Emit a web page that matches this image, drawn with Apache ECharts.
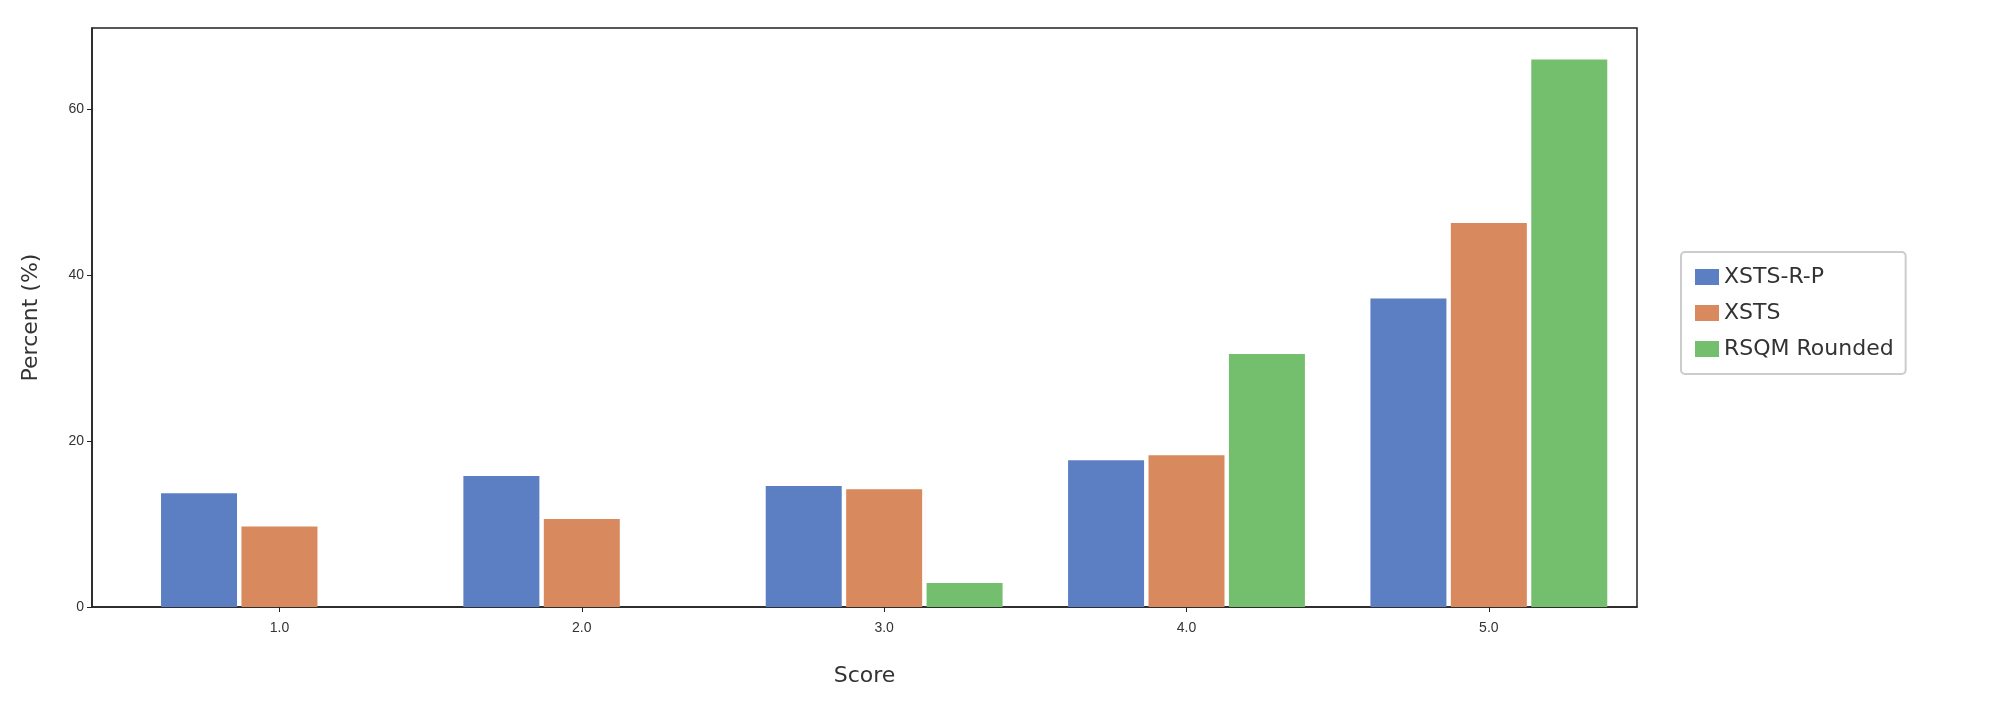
<!DOCTYPE html>
<html>
<head>
<meta charset="utf-8">
<script src="https://cdn.jsdelivr.net/npm/echarts@6/dist/echarts.min.js"></script>
<style>html,body{margin:0;background:#fff}#c{width:2000px;height:719px}</style>
</head>
<body>
<div id="c"></div>
<script>
// scores on the x axis
var scores = [1, 2, 3, 4, 5];
var seriesNames = ['XSTS-R-P', 'XSTS', 'RSQM Rounded'];
var xstsRP = [13.7, 15.8, 14.6, 17.7, 37.2];
var xsts = [9.7, 10.6, 14.2, 18.3, 46.3];
var rsqm = [0, 0, 2.9, 30.5, 66.0];
var yTicks = [0, 20, 40, 60];

var colors = ['#5b7fc2', '#d8895d', '#74bf6e'];
var offsets = [-0.266, 0, 0.266];
var allData = [xstsRP, xsts, rsqm];

var chart = echarts.init(document.getElementById('c'));
var series = allData.map(function (vals, i) {
  return {
    name: seriesNames[i],
    type: 'bar',
    barWidth: 76,
    barGap: '-100%',
    itemStyle: { color: colors[i] },
    data: scores.map(function (s, k) { return [s + offsets[i], vals[k]]; })
  };
});
var option = {
  animation: false,
  grid: { left: 92, right: 363, top: 28, bottom: 112, show: true, borderColor: '#222', borderWidth: 1.5 },
  legend: {
    orient: 'vertical', left: 1681, top: 252,
    itemWidth: 24, itemHeight: 16, itemGap: 14, icon: 'rect',
    padding: [14, 12, 14, 14],
    borderColor: '#ccc', borderWidth: 2, borderRadius: 4,
    textStyle: { fontSize: 22, color: '#333', fontFamily: 'DejaVu Sans' },
    data: seriesNames
  },
  xAxis: {
    type: 'value', min: 0.38, max: 5.49,
    name: 'Score', nameLocation: 'middle', nameGap: 58,
    nameTextStyle: { fontSize: 22, color: '#333', fontFamily: 'DejaVu Sans' },
    axisLine: { lineStyle: { color: '#222', width: 1.5 } },
    axisTick: { show: true, length: 5, lineStyle: { color: '#222' }, customValues: scores },
    axisLabel: { fontSize: 14, color: '#333', margin: 14, customValues: scores,
      formatter: function (v) { return v.toFixed(1); } },
    splitLine: { show: false }
  },
  yAxis: {
    type: 'value', min: 0, max: 69.8,
    name: 'Percent (%)', nameLocation: 'middle', nameGap: 50,
    nameTextStyle: { fontSize: 22, color: '#333', fontFamily: 'DejaVu Sans' },
    axisLine: { show: true, lineStyle: { color: '#222', width: 1.5 } },
    axisTick: { show: true, length: 5, lineStyle: { color: '#222' }, customValues: yTicks },
    axisLabel: { fontSize: 14, color: '#333', customValues: yTicks },
    splitLine: { show: false }
  },
  series: series
};
chart.setOption(option);
</script>
</body>
</html>
